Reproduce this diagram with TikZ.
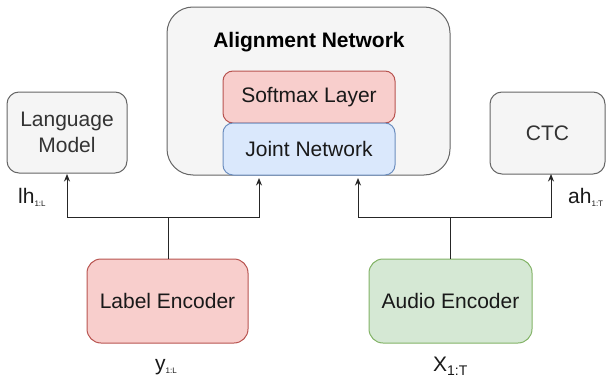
\documentclass[tikz,border=0pt]{standalone}
\usepackage{fontspec}
\setmainfont{Liberation Sans}
\usetikzlibrary{arrows.meta}
\definecolor{greyfill}{HTML}{F5F5F5}
\definecolor{greyline}{HTML}{666666}
\definecolor{greytext}{HTML}{333333}
\definecolor{redfill}{HTML}{F8CECC}
\definecolor{redline}{HTML}{B85450}
\definecolor{bluefill}{HTML}{DAE8FC}
\definecolor{blueline}{HTML}{6C8EBF}
\definecolor{greenfill}{HTML}{D5E8D4}
\definecolor{greenline}{HTML}{82B366}
\newcommand{\bigtxt}{\fontsize{21}{26}\selectfont}
\newcommand{\lowsub}[3]{{\fontsize{#1}{#1}\selectfont\raisebox{-#2pt}{#3}}}
\tikzset{
  block/.style={draw, line width=1pt, rounded corners=#1, font=\bigtxt, align=center, inner sep=0pt},
  greybox/.style={block=12pt, fill=greyfill, draw=greyline, text=greytext},
  redbox/.style={block=10pt, fill=redfill, draw=redline, text=black!90},
  bluebox/.style={block=10pt, fill=bluefill, draw=blueline, text=black!90},
  greenbox/.style={block=12pt, fill=greenfill, draw=greenline, text=black!90},
  link/.style={draw=black!85, line width=1pt},
  arrowlink/.style={link, -{Stealth[length=7.5pt,width=6pt]}},
  varlabel/.style={font=\bigtxt, text=black!90, inner sep=0pt}
}
\begin{document}
\begin{tikzpicture}[x=1pt,y=-1pt]
  \useasboundingbox (0,0) rectangle (608,380);

  % container of the joint model
  \node[greybox, block=26pt, minimum width=283pt, minimum height=168pt] (align) at (308.5,91) {};
  \node[font=\bigtxt\bfseries, text=black, anchor=base, inner sep=0pt] (aligntitle) at (309,47) {Alignment Network};
  \node[redbox, minimum width=172pt, minimum height=52pt] (softmax) at (309,97) {Softmax Layer};
  \node[bluebox, minimum width=172pt, minimum height=52pt] (joint) at (309,149) {Joint Network};

  % auxiliary heads
  \node[greybox, minimum width=120pt, minimum height=81pt] (lm) at (67,132.5) {Language\\Model};
  \node[greybox, minimum width=115pt, minimum height=82pt] (ctc) at (547.5,133) {CTC};

  % encoders
  \node[redbox, block=14pt, minimum width=161pt, minimum height=84pt] (labelenc) at (167.5,301) {Label Encoder};
  \node[greenbox, block=14pt, minimum width=163pt, minimum height=84pt] (audioenc) at (450.5,301) {Audio Encoder};

  % connector points
  \coordinate (jointinL) at (259,178);
  \coordinate (jointinR) at (358,178);
  \coordinate (splitL) at (168,217);
  \coordinate (splitR) at (450,217);
  \coordinate (lmin) at (67,174);
  \coordinate (ctcin) at (551,174);

  % connectors
  \draw[link] (labelenc.north -| splitL) -- (splitL);
  \draw[arrowlink] (splitL) -| (lmin);
  \draw[arrowlink] (splitL) -| (jointinL);
  \draw[link] (audioenc.north -| splitR) -- (splitR);
  \draw[arrowlink] (splitR) -| (jointinR);
  \draw[arrowlink] (splitR) -| (ctcin);

  % variable labels
  \node[varlabel, anchor=base west] (lhlab) at (18,203) {lh\lowsub{8}{3}{1:L}};
  \node[varlabel, anchor=base west] (ahlab) at (568,203) {ah\lowsub{8}{3}{1:T}};
  \node[varlabel, anchor=base west] (ylab) at (155,370) {y\lowsub{8}{3}{1:L}};
  \node[varlabel, anchor=base west] (xlab) at (433,371) {X\lowsub{14}{4}{1:T}};
\end{tikzpicture}
\end{document}
